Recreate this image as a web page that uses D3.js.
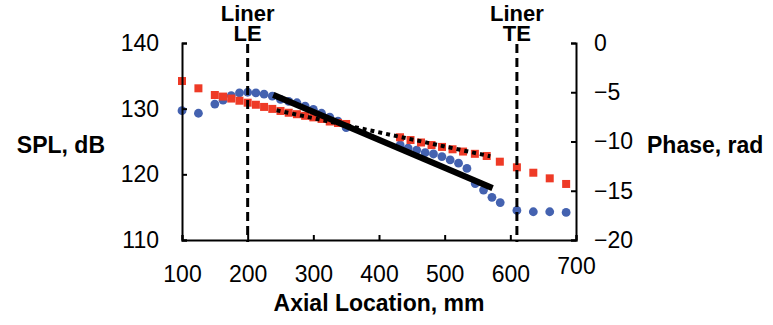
<!DOCTYPE html>
<html>
<head>
<meta charset="utf-8">
<script src="https://cdn.jsdelivr.net/npm/d3@7"></script>
<style>
  body { margin: 0; background: #fff; }
  svg { display: block; font-family: "Liberation Sans", Arial, sans-serif; }
</style>
</head>
<body>
<div class="chart"></div>
<script>
// SPL data (blue circles, left axis)
var splX = [100, 125, 150, 162.5, 175, 187.5, 200, 212.5, 225, 237.5, 250, 262.5, 275, 287.5, 300, 312.5, 325, 337.5, 350,
    432.2, 444.4, 457.4, 470.3, 483, 495.8, 508.4, 521.1, 533.9, 546.5, 559.2, 572, 584.6,
    610, 635, 660, 685];
var splDb = [129.7, 129.3, 130.7, 131.3, 132.0, 132.4, 132.5, 132.4, 132.2, 131.9, 131.4, 131.1, 130.9, 130.4, 129.9, 129.3, 128.7, 128.1, 127.1,
    124.5, 124.0, 123.7, 123.3, 123.1, 122.7, 122.2, 121.7, 120.9, 118.6, 117.6, 116.5, 115.7,
    114.5, 114.3, 114.3, 114.2];

// Phase data (red squares, right axis)
var phX = [100, 125, 150, 162.5, 175, 187.5, 200, 212.5, 225, 237.5, 250, 262.5, 275, 287.5, 300, 312.5, 325, 337.5, 350,
    432, 448, 464, 480, 496, 512, 528, 546, 564, 584,
    610, 635, 660, 685];
var phRad = [-3.86, -4.60, -5.28, -5.44, -5.64, -5.86, -6.06, -6.27, -6.49, -6.69, -6.90, -7.08, -7.23, -7.39, -7.55, -7.71, -7.97, -8.12, -8.22,
    -9.57, -9.85, -10.10, -10.36, -10.55, -10.79, -11.02, -11.25, -11.47, -12.05,
    -12.62, -13.17, -13.74, -14.31];

// Linear fits
var splFitX = [239, 573];
var splFitDb = [132.1, 117.9];
var phFitX = [244, 569.5];
var phFitRad = [-6.83, -11.5];

// Liner edges
var liners = [{x: 200, name: "LE"}, {x: 610, name: "TE"}];

// Ticks
var xTicks = [100, 200, 300, 400, 500, 600, 700];
var splTicks = [110, 120, 130, 140];
var phTicks = [-20, -15, -10, -5, 0];

var w = 773, h = 325;
var plotLeft = 182, plotRight = 576, plotTop = 43, plotBottom = 240;
var tickFont = 23, titleFont = 23;

var svg = d3.select(".chart")
    .append("svg")
    .attr("width", w)
    .attr("height", h);

var xScale = d3.scaleLinear().domain([100, 700]).range([plotLeft, plotRight]);
var ySpl = d3.scaleLinear().domain([110, 140]).range([plotBottom, plotTop]);
var yPh = d3.scaleLinear().domain([-20, 0]).range([plotBottom, plotTop]);

//Markers: blue under red
svg.append("g").selectAll("circle")
    .data(d3.zip(splX, splDb))
    .enter()
    .append("circle")
    .attr("cx", d => xScale(d[0]))
    .attr("cy", d => ySpl(d[1]))
    .attr("r", 4.4)
    .style("fill", "#4462b0");

svg.append("g").selectAll("rect")
    .data(d3.zip(phX, phRad))
    .enter()
    .append("rect")
    .attr("x", d => xScale(d[0]) - 4)
    .attr("y", d => yPh(d[1]) - 4)
    .attr("width", 8)
    .attr("height", 8)
    .style("fill", "#ee3a26");

//Fit lines
svg.append("path")
    .datum(d3.zip(phFitX, phFitRad))
    .attr("d", d3.line().x(d => xScale(d[0])).y(d => yPh(d[1])))
    .style("fill", "none")
    .style("stroke", "#000")
    .style("stroke-width", 4)
    .style("stroke-dasharray", "4,4");

svg.append("path")
    .datum(d3.zip(splFitX, splFitDb))
    .attr("d", d3.line().x(d => xScale(d[0])).y(d => ySpl(d[1])))
    .style("fill", "none")
    .style("stroke", "#000")
    .style("stroke-width", 6);

//Axes
function styleAxis(g) {
    g.attr("font-family", null).attr("font-size", null);
    g.selectAll("path, line").style("stroke", "#000").style("stroke-width", 2);
    g.selectAll("text").style("font-size", tickFont + "px").style("fill", "#000");
}

var xAxis = svg.append("g")
    .attr("transform", "translate(0," + plotBottom + ")")
    .call(d3.axisBottom(xScale).tickValues(xTicks).tickSize(-5).tickPadding(26))
    .call(styleAxis);
xAxis.selectAll(".tick text").filter(d => d === 700).attr("y", 18);

svg.append("g")
    .attr("transform", "translate(" + plotLeft + ",0)")
    .call(d3.axisLeft(ySpl).tickValues(splTicks).tickSize(-5).tickPadding(23))
    .call(styleAxis);

svg.append("g")
    .attr("transform", "translate(" + plotRight + ",0)")
    .call(d3.axisRight(yPh).tickValues(phTicks).tickSize(-5).tickPadding(18))
    .call(styleAxis);

//Liner edge lines and labels
var liner = svg.selectAll(".liner")
    .data(liners)
    .enter()
    .append("g")
    .attr("class", "liner");

liner.append("line")
    .attr("x1", d => xScale(d.x))
    .attr("x2", d => xScale(d.x))
    .attr("y1", plotTop + 1)
    .attr("y2", plotBottom + 2)
    .style("stroke", "#000")
    .style("stroke-width", 3)
    .style("stroke-dasharray", "9,5");

liner.append("text")
    .attr("x", d => xScale(d.x))
    .attr("y", 21)
    .attr("text-anchor", "middle")
    .style("font-size", "22px")
    .style("font-weight", "bold")
    .text("Liner");

liner.append("text")
    .attr("x", d => xScale(d.x))
    .attr("y", 41)
    .attr("text-anchor", "middle")
    .style("font-size", "22px")
    .style("font-weight", "bold")
    .text(d => d.name);

//Axis titles
svg.append("text")
    .attr("x", 105)
    .attr("y", 153)
    .attr("text-anchor", "end")
    .style("font-size", titleFont + "px")
    .style("font-weight", "bold")
    .text("SPL, dB");

svg.append("text")
    .attr("x", 647)
    .attr("y", 153)
    .style("font-size", titleFont + "px")
    .style("font-weight", "bold")
    .text("Phase, rad");

svg.append("text")
    .attr("x", (plotLeft + plotRight) / 2)
    .attr("y", 311)
    .attr("text-anchor", "middle")
    .style("font-size", titleFont + "px")
    .style("font-weight", "bold")
    .text("Axial Location, mm");
</script>
</body>
</html>
